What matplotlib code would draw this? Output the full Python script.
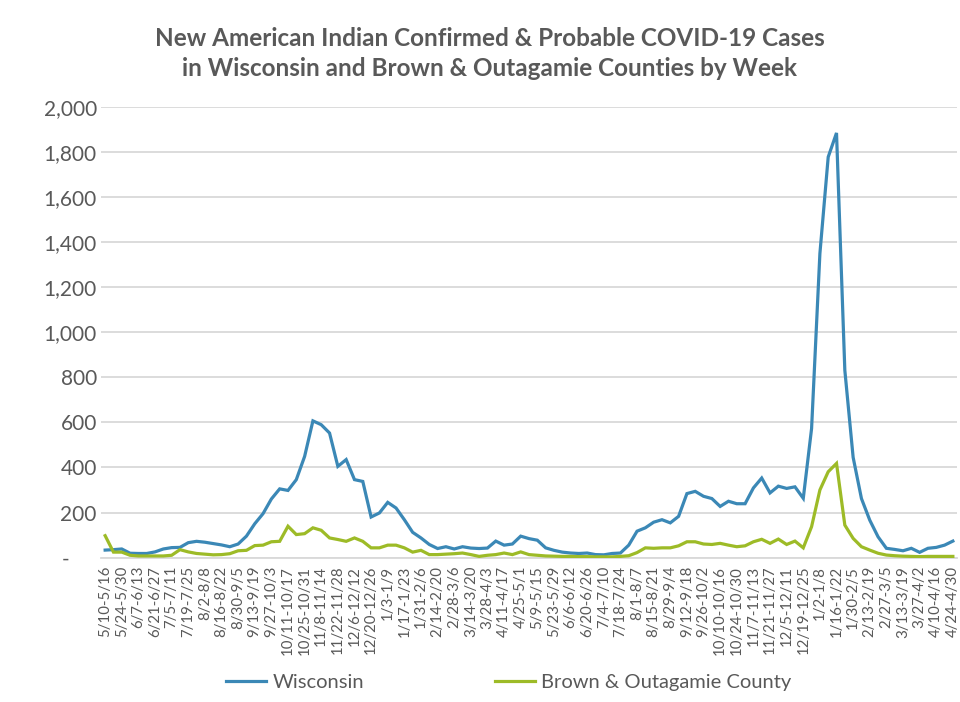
import matplotlib
matplotlib.use("Agg")
import matplotlib.pyplot as plt
from matplotlib.ticker import FixedLocator

plt.rcParams['font.family'] = ['Lato', 'DejaVu Sans']

# Weekly new cases, week of 5/10/2020 through week of 4/24/2022
wisconsin = [
    33, 35, 38, 19, 18, 18, 25, 38, 44, 45,
    66, 72, 68, 62, 56, 48, 60, 95, 150, 195,
    260, 305, 298, 346, 449, 607, 590, 553, 405, 435,
    346, 338, 180, 198, 245, 220, 168, 112, 87, 58,
    40, 48, 38, 48, 42, 40, 42, 73, 55, 60,
    95, 84, 77, 43, 32, 24, 20, 18, 20, 13,
    12, 18, 20, 55, 117, 132, 157, 168, 154, 183,
    284, 294, 272, 262, 227, 250, 239, 239, 309, 353,
    287, 317, 307, 314, 263, 573, 1350, 1779, 1886, 832,
    445, 262, 166, 92, 41, 36, 30, 41, 23, 41,
    45, 55, 73,
]

brown_outagamie = [
    97, 24, 24, 10, 7, 7, 7, 7, 10, 35,
    25, 18, 15, 12, 13, 17, 30, 32, 53, 55,
    70, 72, 139, 102, 106, 132, 121, 87, 80, 72,
    87, 72, 43, 43, 55, 55, 43, 24, 32, 13,
    13, 15, 17, 20, 13, 5, 10, 13, 20, 13,
    25, 13, 10, 7, 6, 5, 5, 4, 4, 3,
    3, 3, 5, 8, 22, 43, 41, 43, 43, 52,
    70, 70, 60, 58, 63, 55, 48, 52, 70, 81,
    63, 82, 58, 73, 43, 137, 300, 381, 418, 144,
    85, 48, 33, 19, 11, 8, 6, 5, 4, 5,
    5, 5, 5,
]

# Every other week is labelled on the category axis
week_labels = [
    "5/10-5/16", "5/24-5/30", "6/7-6/13", "6/21-6/27", "7/5-7/11",
    "7/19-7/25", "8/2-8/8", "8/16-8/22", "8/30-9/5", "9/13-9/19",
    "9/27-10/3", "10/11-10/17", "10/25-10/31", "11/8-11/14", "11/22-11/28",
    "12/6-12/12", "12/20-12/26", "1/3-1/9", "1/17-1/23", "1/31-2/6",
    "2/14-2/20", "2/28-3/6", "3/14-3/20", "3/28-4/3", "4/11-4/17",
    "4/25-5/1", "5/9-5/15", "5/23-5/29", "6/6-6/12", "6/20-6/26",
    "7/4-7/10", "7/18-7/24", "8/1-8/7", "8/15-8/21", "8/29-9/4",
    "9/12-9/18", "9/26-10/2", "10/10-10/16", "10/24-10/30", "11/7-11/13",
    "11/21-11/27", "12/5-12/11", "12/19-12/25", "1/2-1/8", "1/16-1/22",
    "1/30-2/5", "2/13-2/19", "2/27-3/5", "3/13-3/19", "3/27-4/2",
    "4/10-4/16", "4/24-4/30",
]

y_ticks = [0, 200, 400, 600, 800, 1000, 1200, 1400, 1600, 1800, 2000]

series_names = ["Wisconsin", "Brown & Outagamie County"]
colors = ["#3b88b6", "#9dbb27"]
text_color = "#595959"
grid_color = "#d9d9d9"

fig = plt.figure(figsize=(9.6, 7.02), dpi=100)
ax = fig.add_axes([0.1052, 0.2058, 0.8917, 0.6414])

weeks = range(len(wisconsin))
ax.plot(weeks, wisconsin, color=colors[0], lw=2.3, label=series_names[0],
        solid_joinstyle="miter", zorder=3)
ax.plot(weeks, brown_outagamie, color=colors[1], lw=2.3, label=series_names[1],
        solid_joinstyle="miter", zorder=3)

ax.set_xlim(-0.5, len(wisconsin) - 0.5)
ax.set_ylim(0, 2000)

ax.yaxis.set_major_locator(FixedLocator(y_ticks))
ax.set_yticklabels(["-     "] + [f"{v:,}" for v in y_ticks[1:]])
ax.set_xticks(range(0, len(wisconsin), 2))
ax.set_xticklabels(week_labels, rotation=90, fontsize=10.8, color=text_color)

ax.tick_params(axis="y", length=0, pad=3, labelsize=15, labelcolor=text_color)
ax.tick_params(axis="x", length=0, pad=6)

ax.grid(axis="y", color=grid_color, lw=1.3)
ax.set_axisbelow(True)
for side in ["top", "right", "left"]:
    ax.spines[side].set_visible(False)
ax.spines["bottom"].set_color(grid_color)
ax.spines["bottom"].set_linewidth(1.3)

fig.text(0.51, 0.924,
         "New American Indian Confirmed & Probable COVID-19 Cases\n"
         "in Wisconsin and Brown & Outagamie Counties by Week",
         ha="center", va="center", fontsize=17.5, fontweight="bold",
         color=text_color, linespacing=1.4)

fig.legend(loc="center", bbox_to_anchor=(0.53, 0.028), ncol=2, frameon=False,
           fontsize=14.5, handlelength=2.0, handletextpad=0.3, columnspacing=6.5,
           labelcolor=text_color)

fig.savefig("out.png", dpi=100)
